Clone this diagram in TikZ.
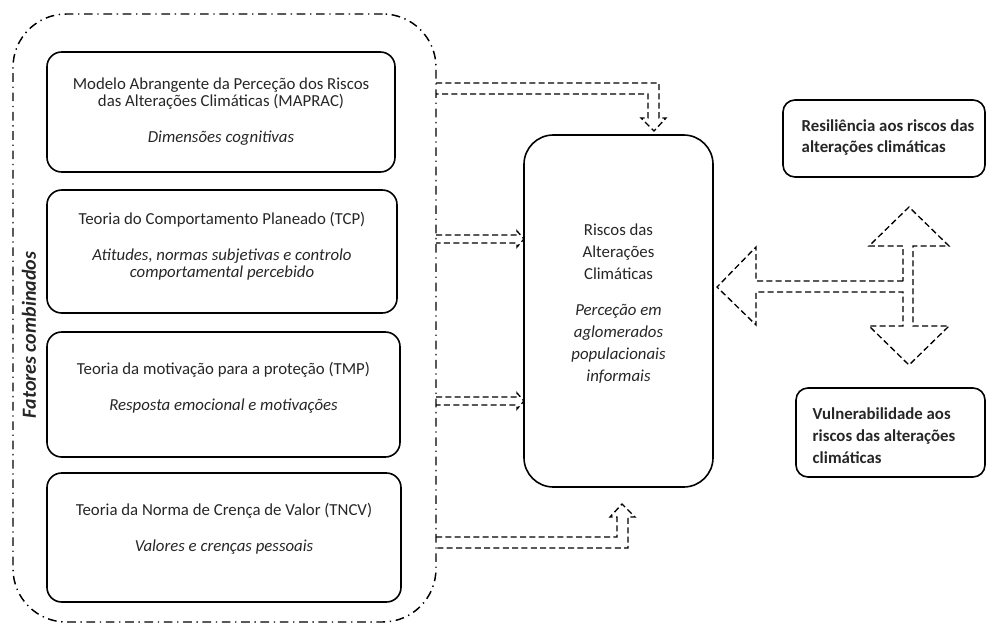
\documentclass[tikz,border=0pt]{standalone}
\usepackage{fontspec}
\setmainfont{Carlito}
\usetikzlibrary{positioning,calc}

\tikzset{
  teoria/.style={draw, line width=1.2pt, rounded corners=11pt, inner sep=0pt, outer sep=0pt},
  rotulo/.style={align=center, text=black!85, font=\fontsize{12.6}{13}\selectfont},
  bloco/.style={draw, line width=1pt, dash pattern=on 4.5pt off 2.5pt, line join=miter},
  moldura/.style={draw, line width=1.1pt, rounded corners=40pt, inner sep=0pt, outer sep=0pt,
    dash pattern=on 6.5pt off 3.5pt on 1pt off 3.5pt}
}

\begin{document}
\begin{tikzpicture}[x={(0.75pt,0)}, y={(0,-0.75pt)}]
    \def\u{0.75pt}
    \useasboundingbox (0,0) rectangle (988,625);
    % moldura dos fatores combinados
    \node[moldura, minimum width=423*\u, minimum height=608*\u] (F) at (224.5,318) {};
    \node[rotate=90, font=\fontsize{15}{16}\selectfont\bfseries\itshape, text=black!85] (Ft) at (29,335) {Fatores combinados};
    % teorias
    \node[teoria, minimum width=348*\u, minimum height=120*\u] (T1) at (221,112) {};
    \node[teoria, minimum width=350*\u, minimum height=123*\u] (T2) at (222,251.5) {};
    \node[teoria, minimum width=353*\u, minimum height=125*\u] (T3) at (223.5,394.5) {};
    \node[teoria, minimum width=354*\u, minimum height=129*\u] (T4) at (224,537.5) {};
    \node[rotulo] (T1t) at (221,111.5) {Modelo Abrangente da Perceção dos Riscos\\
      das Alterações Climáticas (MAPRAC)\\[14pt]\itshape Dimensões cognitivas};
    \node[rotulo] (T2t) at (222,246) {Teoria do Comportamento Planeado (TCP)\\[14pt]
      \itshape Atitudes, normas subjetivas e controlo\\\itshape comportamental percebido};
    \node[rotulo] (T3t) at (223.5,387.5) {Teoria da motivação para a proteção (TMP)\\[14pt]
      \itshape Resposta emocional e motivações};
    \node[rotulo] (T4t) at (224,529) {Teoria da Norma de Crença de Valor (TNCV)\\[14pt]
      \itshape Valores e crenças pessoais};
    % riscos
    \node[teoria, rounded corners=22pt, minimum width=189*\u, minimum height=352*\u] (R) at (618.5,311) {};
    \node[rotulo, font=\fontsize{12.6}{16.5}\selectfont] (Rt) at (618.5,303.5) {Riscos das\\Alterações\\Climáticas\\[11pt]
      \itshape Perceção em\\\itshape aglomerados\\\itshape populacionais\\\itshape informais};
    % resultados
    \node[teoria, rounded corners=9pt, minimum width=202*\u, minimum height=77*\u] (Res) at (884,138.5) {};
    \node[teoria, rounded corners=9pt, minimum width=189*\u, minimum height=89*\u] (Vul) at (890.5,432.5) {};
    \node[rotulo, align=left, anchor=west, font=\fontsize{12.6}{16}\selectfont\bfseries] (Rest) at (797,137.5)
      {Resiliência aos riscos das\\alterações climáticas};
    \node[rotulo, align=left, anchor=west, font=\fontsize{12.6}{16.5}\selectfont\bfseries] (Vult) at (808,435.5)
      {Vulnerabilidade aos\\riscos das alterações\\climáticas};
    % setas duplas
    \draw[bloco] (F.east |- 0,83) -- (659,83) -- (659,118) -- (666,118) -- (654,131)
      -- (641,118) -- (648,118) -- (648,94) -- (F.east |- 0,94);
    \draw[bloco] (F.east |- 0,235) -- (517,235) -- (517,231) -- (R.west |- 0,239)
      -- (517,247) -- (517,243) -- (F.east |- 0,243);
    \draw[bloco] (F.east |- 0,397) -- (517,397) -- (517,393) -- (R.west |- 0,401)
      -- (517,409) -- (517,405) -- (F.east |- 0,405);
    \draw[bloco] (F.east |- 0,537) -- (617,537) -- (617,517) -- (610,517) -- (622,504)
      -- (635,517) -- (628,517) -- (628,548) -- (F.east |- 0,548);
    % seta em T
    \draw[bloco] (903,281) -- (756,281) -- (756,247) -- (717,287) -- (756,325) -- (756,292)
      -- (903,292) -- (903,326) -- (869,326) -- (909,365) -- (949,326) -- (913,326)
      -- (913,246) -- (949,246) -- (909,207) -- (869,246) -- (903,246) -- cycle;
\end{tikzpicture}
\end{document}
